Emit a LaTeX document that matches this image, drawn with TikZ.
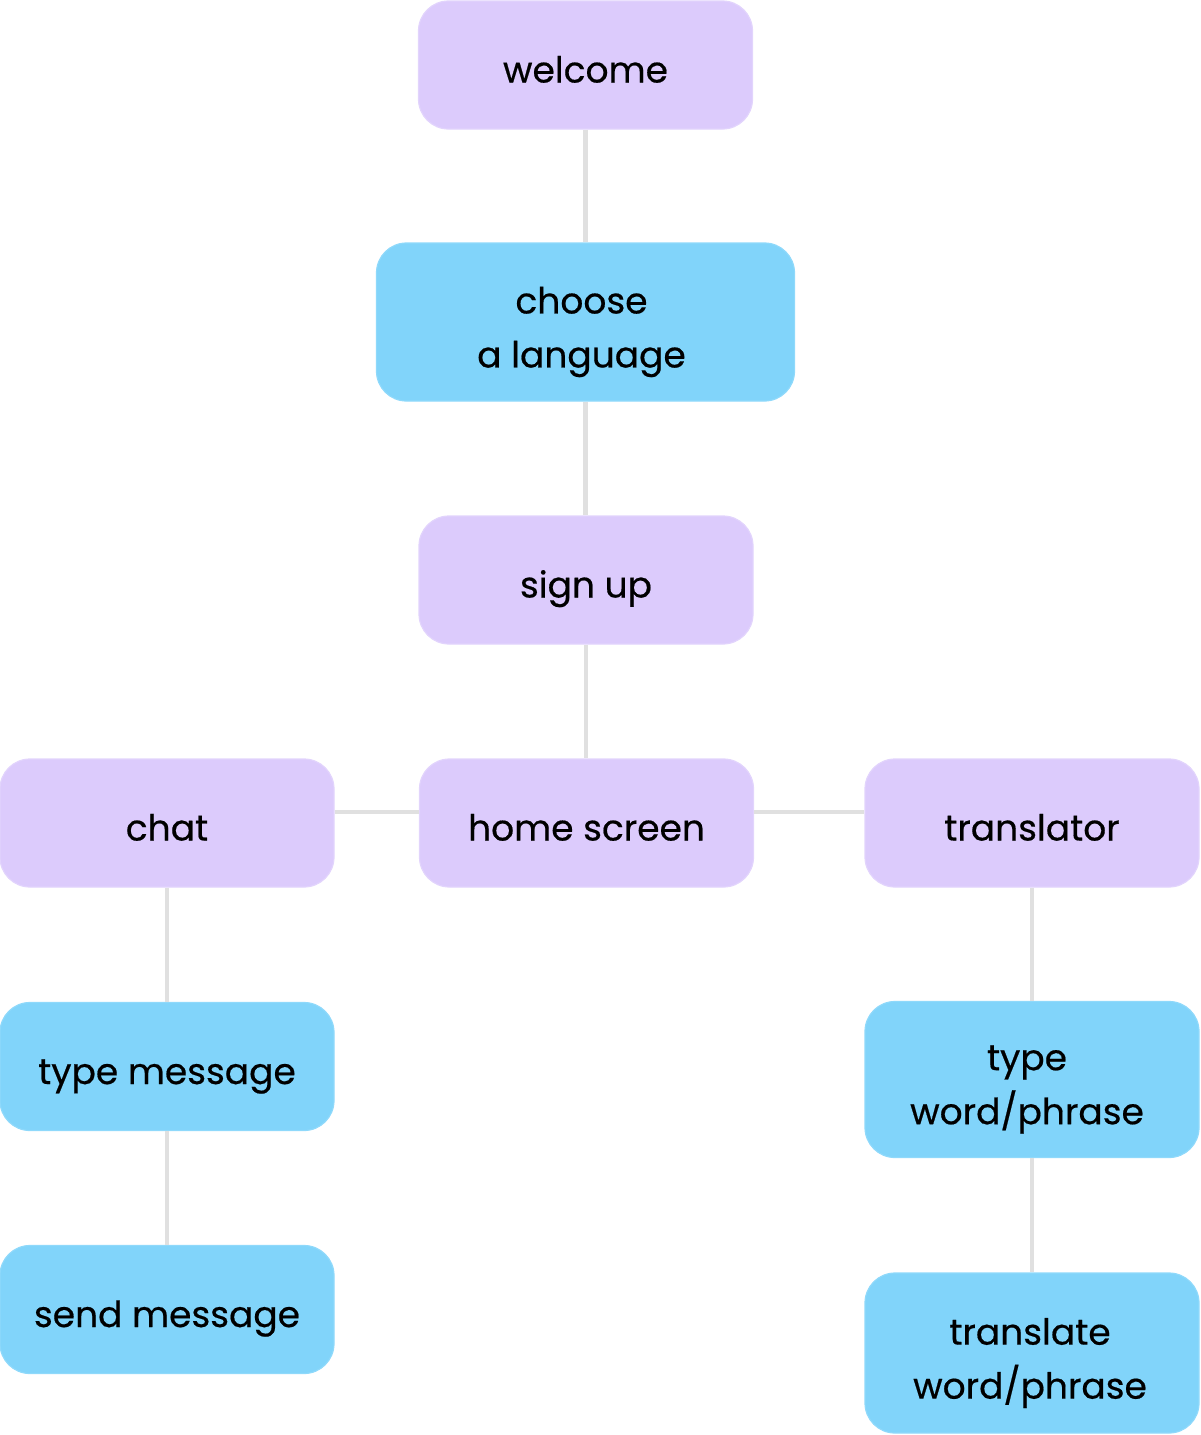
\documentclass[tikz,border=0pt]{standalone}
\usepackage{fontspec}
\setmainfont{Poppins}[FakeBold=0.5]
\definecolor{purp}{HTML}{DCCBFC}
\definecolor{purpline}{HTML}{E2D4FC}
\definecolor{skyb}{HTML}{81D4FA}
\definecolor{skybline}{HTML}{8FD9FB}
\definecolor{conn}{HTML}{E0E0E0}
\begin{document}
\begin{tikzpicture}[x=1pt,y=-1pt,
  box/.style={rounded corners=30pt, line width=1.2pt, minimum width=334pt, align=center,
    font=\fontsize{36}{54}\selectfont, text=black, inner sep=0pt,
    text height=36pt, text depth=1pt},
  pbox/.style={box, fill=purp, draw=purpline, minimum height=128pt},
  bbox/.style={box, fill=skyb, draw=skybline},
  txt/.style={align=center, font=\fontsize{36}{54}\selectfont, text=black, inner sep=0pt},
  link/.style={draw=conn, line width=4.5pt}]
\useasboundingbox (0,0) rectangle (1200,1435);
\node[pbox] (welcome) at (585.5,65) {welcome};
\node[bbox, minimum width=418pt, minimum height=158pt] (choose) at (585.5,322) {};
\node[txt, yshift=-10pt, xshift=-4pt] (chooseT) at (choose.center) {choose\\a language};
\node[pbox] (signup) at (586,580) {sign up};
\node[pbox] (home) at (586.5,823) {home screen};
\node[pbox] (chat) at (167,823) {chat};
\node[pbox] (trans) at (1032,823) {translator};
\node[bbox, minimum height=128pt] (typemsg) at (167,1066.5) {type message};
\node[bbox, minimum height=128pt] (sendmsg) at (167,1309.5) {send message};
\node[bbox, minimum height=156pt] (typeword) at (1032,1079.5) {};
\node[txt, yshift=-10pt, xshift=-5pt] (typewordT) at (typeword.center) {type\\word/phrase};
\node[bbox, minimum height=160pt] (transword) at (1032,1353) {};
\node[txt, yshift=-10pt, xshift=-2pt] (transwordT) at (transword.center) {translate\\word/phrase};
\coordinate (hy) at (0,812);
\draw[link] (welcome) -- (welcome |- choose.north);
\draw[link] (choose.south -| welcome) -- (signup.north -| welcome);
\draw[link] (signup) -- (signup |- home.north);
\draw[link] (chat.east |- hy) -- (home.west |- hy);
\draw[link] (home.east |- hy) -- (trans.west |- hy);
\draw[link] (chat) -- (typemsg);
\draw[link] (typemsg) -- (sendmsg);
\draw[link] (trans) -- (typeword);
\draw[link] (typeword) -- (transword);
\end{tikzpicture}
\end{document}
